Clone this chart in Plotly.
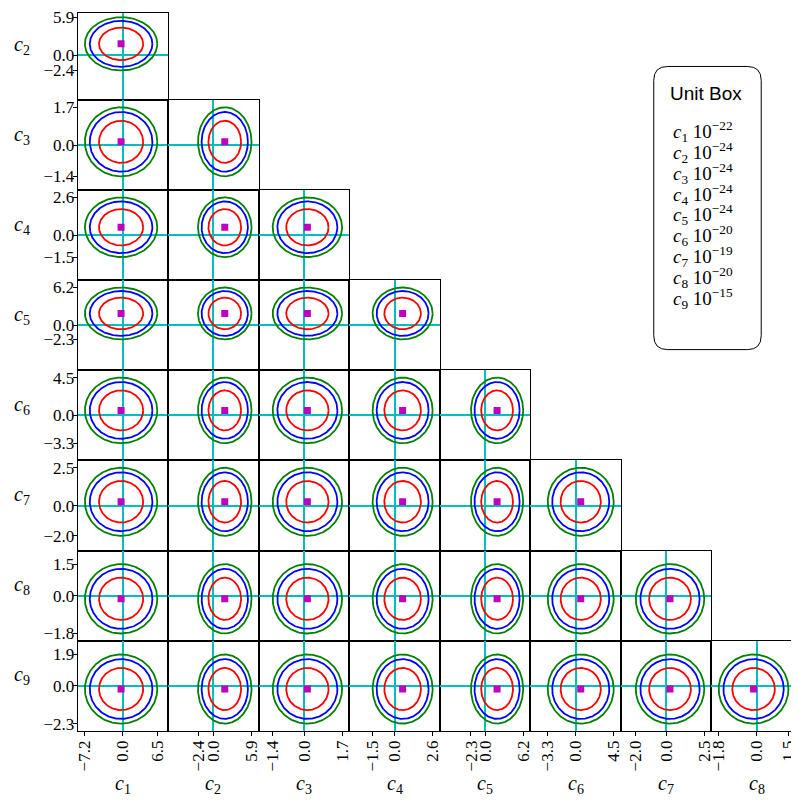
import numpy as np
import plotly.graph_objects as go

names = ['c1', 'c2', 'c3', 'c4', 'c5', 'c6', 'c7', 'c8', 'c9']
lower = [-7.2, -2.4, -1.4, -1.5, -2.3, -3.3, -2.0, -1.8, -2.3]
upper = [6.5, 5.9, 1.7, 2.6, 6.2, 4.5, 2.5, 1.5, 1.9]
unit_exp = [-22, -24, -24, -24, -24, -20, -19, -20, -15]

# contour levels relative to the outer (green) one
contour_scale = [0.61, 0.865, 1.0]
contour_colors = ['#ff0000', '#0000ff', '#008000']

W, H = 799, 803
OFF = 8                      # page body margin in the screenshot
LEFT, TOP, CELL = 76 - OFF, 5 - OFF, 91.0
PAD = 1.19
SERIF = 'Liberation Serif'


def math_name(name):
    return '<i>c</i><sub>%s</sub>' % name[1:]


def fmt(v):
    return ('%.1f' % v).replace('-', '\u2212')


def px(x, y):
    # screen pixel -> paper coords
    return (x - OFF) / W, 1 - (y - OFF) / H


fig = go.Figure()
t = np.linspace(0, 2 * np.pi, 241)
layout = {}
n = 0
nvar = len(names)
for i in range(1, nvar):          # row variable (c2..c9)
    r = i - 1
    for j in range(0, i):          # column variable (c1..c8)
        n += 1
        sx = '' if n == 1 else str(n)

        # domains in paper coords, clipped to the page
        xl = LEFT + j * CELL
        xr = min(LEFT + (j + 1) * CELL, W)
        fx = (xr - xl) / CELL
        yt = max(TOP + r * CELL, 0)
        yb = TOP + (r + 1) * CELL
        fy = (yb - yt) / CELL

        Lx = PAD * max(abs(lower[j]), abs(upper[j]))
        Ly = PAD * max(abs(lower[i]), abs(upper[i]))

        first_col = (j == 0)
        last_row = (i == nvar - 1)

        layout['xaxis' + sx] = dict(
            domain=[xl / W, xr / W], anchor='y' + sx,
            range=[-Lx, -Lx + 2 * Lx * fx],
            showgrid=False, showline=True, mirror=True, linecolor='black', linewidth=1,
            zeroline=True, zerolinecolor='#00bfbf', zerolinewidth=1.6,
            tickvals=[lower[j], 0, upper[j]] if last_row else [],
            ticktext=[fmt(lower[j]), fmt(0), fmt(upper[j])] if last_row else [],
            ticks='outside' if last_row else '', ticklen=4, tickcolor='black',
            tickangle=-90, showticklabels=last_row, ticklabelstandoff=-2,
            ticklabeloverflow='allow',
            tickfont=dict(family=SERIF, size=17, color='black'),
        )
        layout['yaxis' + sx] = dict(
            domain=[1 - yb / H, 1 - yt / H], anchor='x' + sx,
            range=[-Ly, -Ly + 2 * Ly * fy],
            showgrid=False, showline=True, mirror=True, linecolor='black', linewidth=1,
            zeroline=True, zerolinecolor='#00bfbf', zerolinewidth=1.6,
            tickvals=[lower[i], 0, upper[i]] if first_col else [],
            ticktext=[fmt(lower[i]), fmt(0), fmt(upper[i])] if first_col else [],
            ticks='outside' if first_col else '', ticklen=4, tickcolor='black',
            showticklabels=first_col, ticklabelstandoff=-5,
            ticklabeloverflow='allow',
            tickfont=dict(family=SERIF, size=17, color='black'),
        )

        cx = (lower[j] + upper[j]) / 2
        cy = (lower[i] + upper[i]) / 2
        ax = (upper[j] - lower[j]) / 2
        ay = (upper[i] - lower[i]) / 2
        for k, col in zip(contour_scale, contour_colors):
            fig.add_trace(go.Scatter(
                x=cx + k * ax * np.cos(t), y=cy + k * ay * np.sin(t),
                mode='lines', line=dict(color=col, width=1.8),
                xaxis='x' + sx, yaxis='y' + sx, showlegend=False, hoverinfo='skip'))
        fig.add_trace(go.Scatter(
            x=[cx], y=[cy], mode='markers',
            marker=dict(symbol='square', size=7, color='#bf00bf'),
            xaxis='x' + sx, yaxis='y' + sx, showlegend=False))

annotations = []
# row labels
for r in range(nvar - 1):
    x, y = px(20, 5 + r * CELL + CELL / 2 - 10)
    annotations.append(dict(text=math_name(names[r + 1]), x=x, y=y, xref='paper', yref='paper',
                            showarrow=False, xanchor='center', yanchor='middle',
                            font=dict(family=SERIF, size=20, color='black')))
# column labels
for j in range(nvar - 1):
    x, y = px(76 + j * CELL + CELL / 2, 787)
    annotations.append(dict(text=math_name(names[j]), x=x, y=y, xref='paper', yref='paper',
                            showarrow=False, xanchor='center', yanchor='middle',
                            font=dict(family=SERIF, size=20, color='black')))

# unit box
x, y = px(708, 89)
annotations.append(dict(text='Unit Box', x=x, y=y, xref='paper', yref='paper', showarrow=False,
                        xanchor='center', yanchor='middle',
                        font=dict(family='Liberation Sans', size=19, color='black')))
for k, (nm, e) in enumerate(zip(names, unit_exp)):
    x, y = px(672, 128 + k * 21)
    annotations.append(dict(text='%s 10<sup>\u2212%d</sup>' % (math_name(nm), -e),
                            x=x, y=y, xref='paper', yref='paper', showarrow=False,
                            xanchor='left', yanchor='middle',
                            font=dict(family=SERIF, size=19, color='black')))

bx0, bx1, by0, by1, rad = 655, 763, 62, 348, 14
pts = [(bx0 + rad, by0), (bx1 - rad, by0), (bx1, by0), (bx1, by0 + rad), (bx1, by1 - rad),
       (bx1, by1), (bx1 - rad, by1), (bx0 + rad, by1), (bx0, by1), (bx0, by1 - rad),
       (bx0, by0 + rad), (bx0, by0), (bx0 + rad, by0)]
p = [px(*q) for q in pts]
path = ('M %f,%f L %f,%f Q %f,%f %f,%f L %f,%f Q %f,%f %f,%f L %f,%f Q %f,%f %f,%f '
        'L %f,%f Q %f,%f %f,%f Z') % tuple(v for q in p for v in q)

fig.update_layout(
    width=W, height=H,
    margin=dict(l=0, r=0, t=0, b=0),
    plot_bgcolor='white', paper_bgcolor='white',
    annotations=annotations,
    shapes=[dict(type='path', path=path, xref='paper', yref='paper',
                 line=dict(color='black', width=1))],
    **layout,
)

fig.write_html("out.html")
